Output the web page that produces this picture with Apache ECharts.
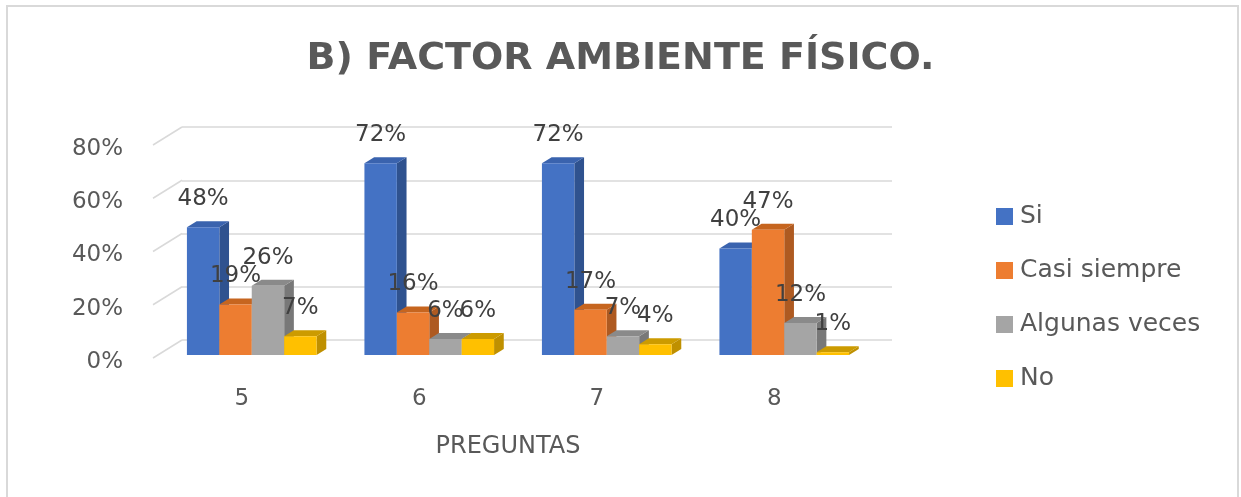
<!DOCTYPE html>
<html><head><meta charset="utf-8">
<script src="https://cdn.jsdelivr.net/npm/echarts@6/dist/echarts.min.js"></script>
<style>html,body{margin:0;padding:0;background:#fff}#c{width:1241px;height:497px}</style>
</head><body><div id="c"></div>
<script>
// ---- data ----
const titleText = 'B) FACTOR AMBIENTE FÍSICO.';
const xAxisName = 'PREGUNTAS';
const categories = ['5', '6', '7', '8'];
const seriesNames = ['Si', 'Casi siempre', 'Algunas veces', 'No'];
const si = [48, 72, 72, 40];
const casiSiempre = [19, 16, 17, 47];
const algunasVeces = [26, 6, 7, 12];
const no = [7, 6, 4, 1];
const yTicks = [0, 20, 40, 60, 80];

// ---- styles ----
const FONT = '"DejaVu Sans", sans-serif';
const TEXT = '#595959';
const faces = [
  { front: '#4472C4', side: '#2F528F', top: '#3A63AE' },
  { front: '#ED7D31', side: '#AE5A21', top: '#C6651F' },
  { front: '#A5A5A5', side: '#787878', top: '#8A8A8A' },
  { front: '#FFC000', side: '#BF9000', top: '#CC9B00' }
];
const BAR_FRAC = 0.1826, FRONT_DX = 10, FRONT_DY = -3, DEPTH_DX = 9.7, DEPTH_DY = -6;
const WALL_DX = 29, WALL_DY = -18, LABEL_GAP = 28;

const valueSets = [si, casiSiempre, algunasVeces, no];

function barRenderer(k) {
  return function (params, api) {
    const ci = api.value(0), v = api.value(1);
    const t = api.coord([ci, v]);
    const b = api.coord([ci, 0]);
    const band = api.size([1, 0])[0];
    const bw = band * BAR_FRAC;
    const x0 = t[0] + (k - 2) * bw + FRONT_DX, x1 = x0 + bw;
    const yb = b[1] + FRONT_DY, yt = t[1] + FRONT_DY;
    const c = faces[k];
    return {
      type: 'group',
      children: [
        { type: 'polygon', shape: { points: [[x1, yb], [x1 + DEPTH_DX, yb + DEPTH_DY], [x1 + DEPTH_DX, yt + DEPTH_DY], [x1, yt]] }, style: { fill: c.side } },
        { type: 'polygon', shape: { points: [[x0, yt], [x0 + DEPTH_DX, yt + DEPTH_DY], [x1 + DEPTH_DX, yt + DEPTH_DY], [x1, yt]] }, style: { fill: c.top } },
        { type: 'rect', shape: { x: x0, y: yt, width: bw, height: yb - yt }, style: { fill: c.front } },
        { type: 'text', z2: 100, style: { text: v + '%', x: x0 + bw / 2, y: yt - LABEL_GAP, align: 'center', verticalAlign: 'middle', font: '23px ' + FONT, fill: '#404040' } }
      ]
    };
  };
}

const barSeries = seriesNames.map((name, k) => ({
  name: name,
  type: 'custom',
  xAxisIndex: 0, yAxisIndex: 0,
  itemStyle: { color: faces[k].front },
  renderItem: barRenderer(k),
  data: valueSets[k].map((v, i) => [i, v]),
  z: 3
}));

const wallSeries = {
  name: 'wall',
  type: 'custom',
  xAxisIndex: 0, yAxisIndex: 0,
  silent: true,
  renderItem: function (params, api) {
    const v = api.value(1);
    const p = api.coord([0, v]);
    const band = api.size([1, 0])[0];
    const left = p[0] - band / 2;
    return { type: 'line', shape: { x1: left, y1: p[1], x2: left + WALL_DX, y2: p[1] + WALL_DY }, style: { stroke: '#D9D9D9', lineWidth: 1.5 } };
  },
  data: yTicks.map(v => [0, v]),
  z: 1
};

const chart = echarts.init(document.getElementById('c'), null, { renderer: 'canvas' });
chart.setOption({
  animation: false,
  backgroundColor: '#fff',
  graphic: [{ type: 'rect', shape: { x: 7, y: 6, width: 1231, height: 500 }, style: { fill: 'none', stroke: '#D9D9D9', lineWidth: 2 }, silent: true }],
  title: {
    text: titleText, left: 'center', top: 35,
    textStyle: { fontFamily: FONT, fontWeight: 'bold', fontSize: 38, color: TEXT }
  },
  legend: {
    orient: 'vertical', left: 991, top: 199,
    icon: 'rect', itemWidth: 17, itemHeight: 17, itemGap: 29,
    data: seriesNames,
    textStyle: { fontFamily: FONT, fontSize: 25, color: TEXT, lineHeight: 23, padding: [0, 0, 0, 2] }
  },
  grid: [
    { left: 153, right: 378, top: 145, bottom: 139 },
    { left: 182, right: 349, top: 127, bottom: 157 },
    { left: 153, right: 378, top: 149, bottom: 135 }
  ],
  xAxis: [
    { type: 'category', gridIndex: 0, data: categories,
      axisLine: { show: false }, axisTick: { show: false }, splitLine: { show: false },
      axisLabel: { fontFamily: FONT, fontSize: 23, color: TEXT, margin: 30 },
      name: xAxisName, nameLocation: 'middle', nameGap: 77,
      nameTextStyle: { fontFamily: FONT, fontSize: 24, color: TEXT } },
    { type: 'category', gridIndex: 1, data: categories, show: false },
    { type: 'category', gridIndex: 2, data: categories, show: false }
  ],
  yAxis: [
    { type: 'value', gridIndex: 0, min: 0, max: 80, interval: 20,
      axisLine: { show: false }, axisTick: { show: false }, splitLine: { show: false }, axisLabel: { show: false } },
    { type: 'value', gridIndex: 1, min: 0, max: 80, interval: 20,
      axisLine: { show: false }, axisTick: { show: false }, axisLabel: { show: false },
      splitLine: { show: true, lineStyle: { color: '#D9D9D9', width: 1.5 } } },
    { type: 'value', gridIndex: 2, min: 0, max: 80, interval: 20,
      axisLine: { show: false }, axisTick: { show: false }, splitLine: { show: false },
      axisLabel: { fontFamily: FONT, fontSize: 23, color: TEXT, margin: 30, formatter: '{value}%' } }
  ],
  series: [wallSeries].concat(barSeries)
});
</script>
</body></html>
